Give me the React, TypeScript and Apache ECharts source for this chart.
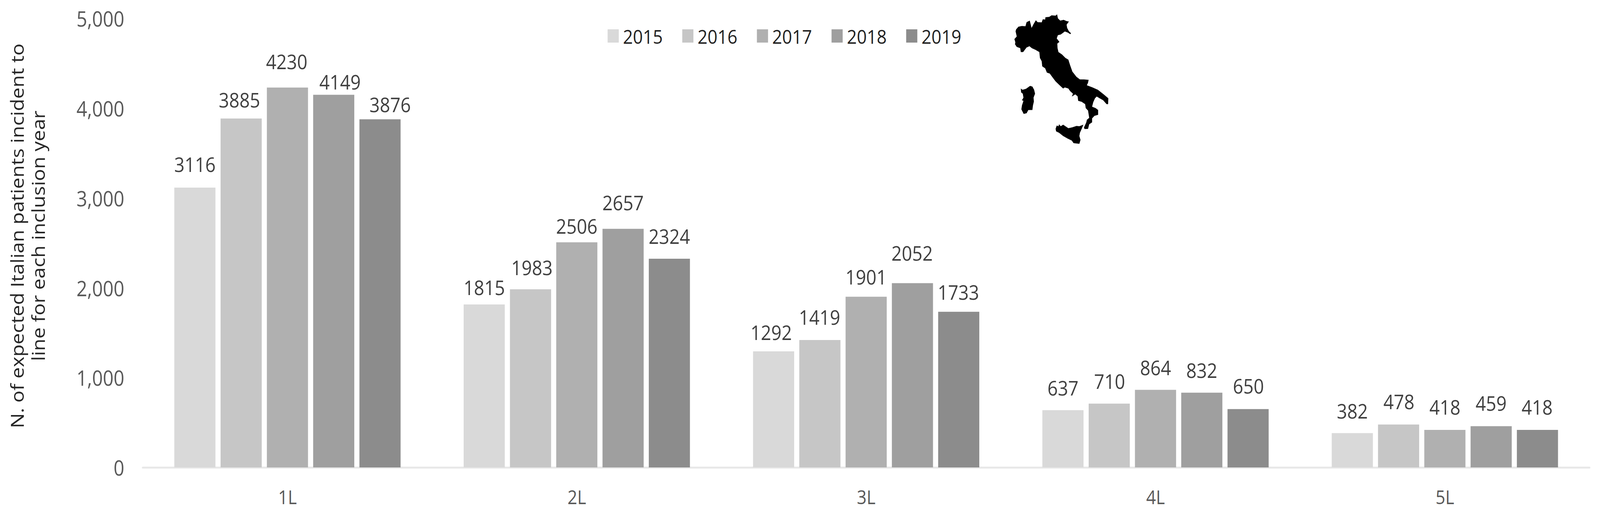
import React, { useEffect, useRef } from "react";
import * as echarts from "echarts";

const categories = ["1L", "2L", "3L", "4L", "5L"];
const years = ["2015", "2016", "2017", "2018", "2019"];
const colors = ["#D9D9D9", "#C6C6C6", "#B0B0B0", "#9F9F9F", "#8C8C8C"];
const v2015 = [3116, 1815, 1292, 637, 382];
const v2016 = [3885, 1983, 1419, 710, 478];
const v2017 = [4230, 2506, 1901, 864, 418];
const v2018 = [4149, 2657, 2052, 832, 459];
const v2019 = [3876, 2324, 1733, 650, 418];
const seriesValues = [v2015, v2016, v2017, v2018, v2019];
const yTitle = "N. of expected Italian patients incident to\nline for each inclusion year";

// Hand-placed data labels in the reference: offset from the bar centre, and height above the bar top.
const labelDx = [
  [0, 0, -7, 0, 0],
  [-5, 4, -1, 1, 1],
  [-2, 0, 0, 0, 0],
  [18, 0, -1, 0, 0],
  [29, 0, -1, 1, -1],
];
const labelRise = [
  [58, 42, 47, 55, 55],
  [46, 54, 57, 55, 57],
  [65, 40, 49, 55, 57],
  [31, 65, 75, 55, 57],
  [36, 56, 48, 57, 57],
];

const ITALY_D =
  "M205 165 L225 145 L255 140 L285 142 L295 110 L322 98 L330 125 L338 155 L355 125 L375 95 L390 110 L425 112 L435 88 L455 90 L458 72 L490 70 L510 58 L545 60 L558 50 L565 80 L585 98 L615 92 L640 102 L660 105 L640 130 L645 155 L660 180 L678 195 L672 203 L650 190 L625 182 L590 205 L565 210 L555 235 L578 262 L560 275 L562 310 L570 340 L600 358 L630 385 L655 398 L670 440 L690 490 L725 530 L755 550 L790 550 L830 553 L825 575 L815 595 L860 610 L910 630 L960 665 L1000 695 L998 740 L985 740 L955 710 L925 695 L900 682 L885 695 L870 725 L860 760 L890 770 L912 785 L912 822 L880 830 L860 850 L860 880 L835 895 L825 930 L795 932 L790 920 L810 880 L815 860 L835 845 L825 790 L805 770 L800 740 L770 722 L740 715 L735 680 L715 665 L685 682 L695 660 L670 640 L655 620 L625 612 L610 620 L580 595 L545 565 L515 530 L495 505 L470 498 L455 465 L430 450 L425 410 L410 385 L405 340 L370 322 L340 310 L320 295 L295 305 L265 340 L245 340 L240 310 L210 300 L195 280 L198 265 L190 240 L210 220 L200 180 Z " +
  "M245 620 L260 630 L290 622 L325 600 L345 605 L360 630 L368 660 L355 690 L358 720 L350 750 L345 785 L310 785 L295 810 L270 815 L250 780 L255 750 L268 715 L255 710 L268 690 L262 660 L248 650 Z " +
  "M545 930 L555 905 L570 910 L575 895 L590 910 L610 898 L630 910 L655 925 L690 918 L725 908 L750 910 L785 898 L770 930 L755 960 L750 985 L760 1015 L750 1045 L700 1040 L685 1020 L650 1005 L610 985 L575 960 L550 950 Z";

echarts.graphic.registerShape("italy", echarts.graphic.extendPath(ITALY_D, {}) as any);

const FONT = "Open Sans";
const W = 4595;
const H = 1328;
const LABEL_HALF = 23;

export default function App() {
  const ref = useRef<HTMLDivElement>(null);
  useEffect(() => {
    const chart = echarts.init(ref.current!, undefined, { renderer: "svg" });
    chart.setOption({
      animation: false,
      backgroundColor: "#FFFFFF",
      textStyle: { fontFamily: FONT },
      grid: { left: 410, right: 30, top: 47, bottom: 132, containLabel: false, outerBoundsMode: "none" },
      legend: {
        left: 1740,
        top: 62,
        itemWidth: 32,
        itemHeight: 34,
        itemGap: 56,
        icon: "rect",
        data: years,
        textStyle: { fontFamily: FONT, fontSize: 50, color: "#222222", padding: [0, 0, 0, 7] },
      },
      xAxis: {
        type: "category",
        data: categories,
        axisTick: { show: false },
        axisLine: { show: true, lineStyle: { color: "#E8E8E8", width: 5 } },
        axisLabel: { fontFamily: FONT, fontSize: 49, color: "#595959", margin: 50 },
      },
      yAxis: {
        type: "value",
        min: 0,
        max: 5000,
        interval: 1000,
        name: yTitle,
        nameLocation: "middle",
        nameRotate: 90,
        nameGap: 270,
        nameTextStyle: {
          fontFamily: FONT,
          fontSize: 51.5,
          color: "#262626",
          lineHeight: 61,
          align: "center",
          padding: [0, 0, 0, 36],
        },
        axisLine: { show: false },
        axisTick: { show: false },
        splitLine: { show: false },
        axisLabel: {
          fontFamily: FONT,
          fontSize: 54,
          color: "#595959",
          margin: 53,
          padding: [0, 0, 6, 0],
          formatter: (v: number) => v.toLocaleString("en-US"),
        },
      },
      series: years.map((y, i) => ({
        name: y,
        type: "bar",
        data: seriesValues[i].map((value, j) => ({
          value,
          label: {
            show: true,
            position: "top",
            distance: 0,
            offset: [labelDx[i][j], -(labelRise[i][j] - LABEL_HALF)],
          },
        })),
        barGap: "12.5%",
        barCategoryGap: "21.8%",
        itemStyle: { color: colors[i] },
        label: {
          show: true,
          position: "top",
          fontFamily: FONT,
          fontSize: 52,
          color: "#404040",
        },
      })),
      graphic: [
        {
          type: "italy",
          x: 2850,
          y: 20,
          scaleX: 1 / 3,
          scaleY: 1 / 3,
          style: { fill: "#000000" },
        },
      ],
    });
    return () => chart.dispose();
  }, []);
  // The window may be narrower than the chart's design width: fit the width so nothing is cut off.
  const k = Math.min(1, window.innerWidth / W);
  return (
    <div
      ref={ref}
      style={{
        position: "absolute",
        left: 0,
        top: 0,
        width: W,
        height: H,
        transform: `scaleX(${k})`,
        transformOrigin: "0 0",
      }}
    />
  );
}
